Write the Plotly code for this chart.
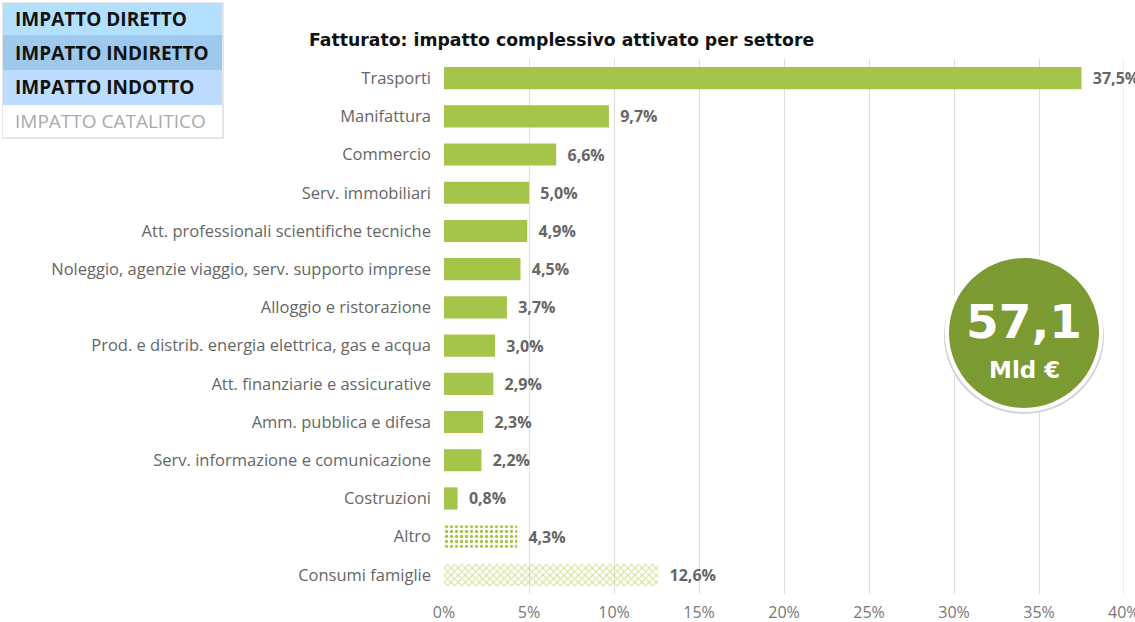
import plotly.graph_objects as go

categories = ["Trasporti", "Manifattura", "Commercio", "Serv. immobiliari",
              "Att. professionali scientifiche tecniche",
              "Noleggio, agenzie viaggio, serv. supporto imprese",
              "Alloggio e ristorazione",
              "Prod. e distrib. energia elettrica, gas e acqua",
              "Att. finanziarie e assicurative", "Amm. pubblica e difesa",
              "Serv. informazione e comunicazione", "Costruzioni", "Altro",
              "Consumi famiglie"]
values = [37.5, 9.7, 6.6, 5.0, 4.9, 4.5, 3.7, 3.0, 2.9, 2.3, 2.2, 0.8, 4.3, 12.6]
legend_items = ["IMPATTO DIRETTO", "IMPATTO INDIRETTO", "IMPATTO INDOTTO", "IMPATTO CATALITICO"]
tick_vals = [0, 5, 10, 15, 20, 25, 30, 35, 40]
tick_text = ["0%", "5%", "10%", "15%", "20%", "25%", "30%", "35%", "40%"]
total_value = "57,1"
total_unit = "Mld €"

W, H = 1135, 622
L, R, T, B = 444, 11, 59, 28
pw, ph = W - L - R, H - T - B

def px(x):
    return (x - L) / pw

def py(y):
    return (H - B - y) / ph

n = len(categories)
colors = ["#a5c54a"] * (n - 2) + ["#a5c54a", "#cfe08f"]
pat_shapes = [""] * (n - 2) + [".", "x"]
pat_fg = ["#a5c54a"] * (n - 2) + ["#ffffff", "#a5c54a"]
pat_bg = ["#a5c54a"] * (n - 2) + ["#9cbf3e", "#e3eebf"]

FONT = "Open Sans"

fig = go.Figure()
fig.add_trace(go.Bar(
    y=categories, x=values, orientation="h",
    marker=dict(color=colors, line=dict(width=0),
                pattern=dict(shape=pat_shapes, fgcolor=pat_fg, bgcolor=pat_bg,
                             size=5, solidity=0.35, fillmode="replace")),
    width=0.58,
    texttemplate="\u00a0\u00a0%{x:.1f}%", textposition="outside", cliponaxis=False,
    textfont=dict(family=FONT, size=16, color="#666666", weight="bold"),
    hoverinfo="skip",
))

fig.update_layout(
    width=W, height=H,
    margin=dict(l=L, r=R, t=T, b=B, autoexpand=False),
    paper_bgcolor="white", plot_bgcolor="white",
    separators=",.",
    showlegend=False,
    font=dict(family=FONT, color="#555555"),
    xaxis=dict(range=[0, 40], tickvals=tick_vals[:-1], ticktext=tick_text[:-1],
               showgrid=True, gridcolor="#dddddd", gridwidth=1, zeroline=False,
               showline=False, tickfont=dict(family=FONT, size=16, color="#777777"),
               ticks="", ticklabelstandoff=7),
    yaxis=dict(categoryorder="array", categoryarray=categories, autorange="reversed",
               showgrid=False, showline=False, ticks="",
               tickfont=dict(family=FONT, size=16.5, color="#666666"), ticklabelstandoff=12),
)

# last tick label (partly beyond the page edge, as in the original)
fig.add_annotation(text=tick_text[-1], xref="x", yref="paper", x=tick_vals[-1], y=py(612),
                   xanchor="center", yanchor="middle", showarrow=False,
                   font=dict(family=FONT, size=16, color="#777777"))
fig.add_shape(type="line", xref="x", yref="paper", x0=tick_vals[-1], x1=tick_vals[-1],
              y0=0, y1=1, line=dict(color="#dddddd", width=1), layer="below")

# Title
fig.add_annotation(text="<b>Fatturato: impatto complessivo attivato per settore</b>",
                   xref="paper", yref="paper", x=px(307), y=py(40),
                   xanchor="left", yanchor="middle", showarrow=False,
                   font=dict(family="DejaVu Sans", size=17.3, color="#111111"))

# Legend boxes (top-left)
rows = [(3, 35, "#b3e0ff", "#111111"), (35, 70, "#9ec8ec", "#111111"),
        (70, 105, "#bddcff", "#111111"), (105, 137, "#ffffff", "#aaaaaa")]
fig.add_shape(type="rect", xref="paper", yref="paper",
              x0=px(2), x1=px(224), y0=py(139), y1=py(2),
              fillcolor="#e6e6e6", line=dict(width=0), layer="above")
for (y0, y1, c, tc), lab in zip(rows, legend_items):
    fig.add_shape(type="rect", xref="paper", yref="paper",
                  x0=px(3), x1=px(222), y0=py(y1), y1=py(y0),
                  fillcolor=c, line=dict(width=0), layer="above")
    txt = f"<b>{lab}</b>" if tc != "#aaaaaa" else lab
    fig.add_annotation(text=txt, xref="paper", yref="paper",
                       x=px(13), y=py((y0 + y1) / 2), xanchor="left", yanchor="middle",
                       showarrow=False,
                       font=dict(family=FONT, size=19, color=tc))

# Circle with total
cx, cy, r = 1024, 333, 77
fig.add_shape(type="circle", xref="paper", yref="paper",
              x0=px(cx - r - 3), x1=px(cx + r + 3), y0=py(cy + r + 4), y1=py(cy - r + 2),
              fillcolor="#d5d5d5", line=dict(width=0), layer="above")
fig.add_shape(type="circle", xref="paper", yref="paper",
              x0=px(cx - r - 2), x1=px(cx + r + 2), y0=py(cy + r + 2), y1=py(cy - r - 2),
              fillcolor="#ffffff", line=dict(width=0), layer="above")
fig.add_shape(type="circle", xref="paper", yref="paper",
              x0=px(cx - r + 2), x1=px(cx + r - 2), y0=py(cy + r - 2), y1=py(cy - r + 2),
              fillcolor="#7b9a31", line=dict(width=0), layer="above")
fig.add_annotation(text=f"<b>{total_value}</b>", xref="paper", yref="paper",
                   x=px(cx), y=py(cy - 12), xanchor="center", yanchor="middle",
                   showarrow=False, font=dict(family="DejaVu Sans", size=47, color="white"))
fig.add_annotation(text=f"<b>{total_unit}</b>", xref="paper", yref="paper",
                   x=px(cx), y=py(cy + 37), xanchor="center", yanchor="middle",
                   showarrow=False, font=dict(family="DejaVu Sans", size=23, color="white"))

fig.write_html("out.html", config={"displayModeBar": False},
               post_script="document.body.style.margin='0px';")
